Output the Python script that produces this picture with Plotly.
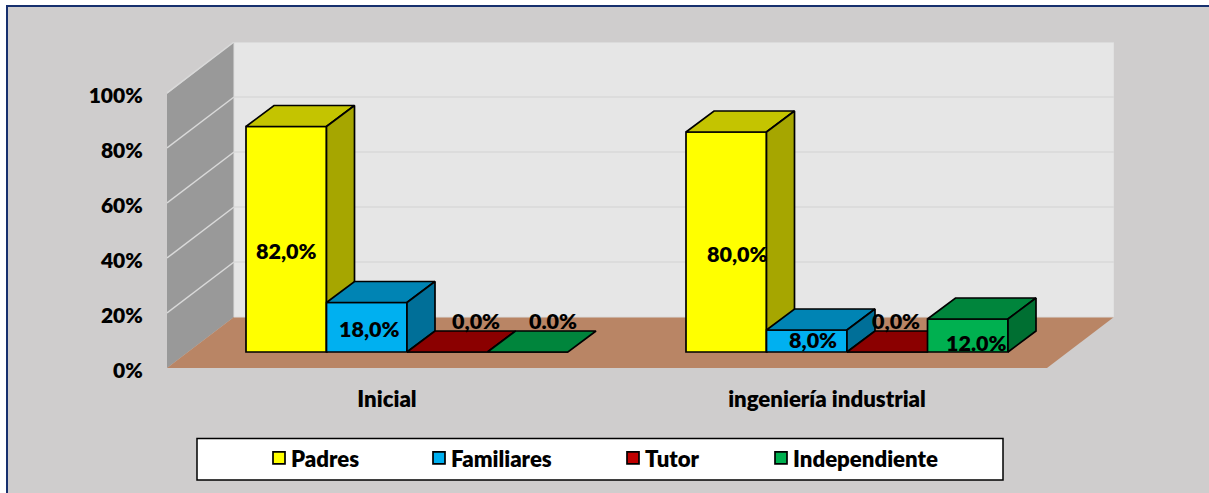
import plotly.graph_objects as go

categories = ["Inicial", "ingeniería industrial"]
series_names = ["Padres", "Familiares", "Tutor", "Independiente"]
padres = [82, 80]
familiares = [18, 8]
tutor = [0, 0]
independiente = [0, 12]
labels_padres = ["82,0%", "80,0%"]
labels_familiares = ["18,0%", "8,0%"]
labels_tutor = ["0,0%", "0,0%"]
labels_independiente = ["0.0%", "12.0%"]
y_ticks = [0, 20, 40, 60, 80, 100]

series_values = [padres, familiares, tutor, independiente]
series_labels = [labels_padres, labels_familiares, labels_tutor, labels_independiente]

# styles: legend/front, top, side
legend_fill = ["#ffff00", "#00b0f0", "#c00000", "#00b050"]
top = ["#c4c400", "#0084b4", "#8b0000", "#00853c"]
side = ["#a6a600", "#006f98", "#6e0000", "#006f32"]

W, H = 1209, 493
L, R, T, B = 167, 1114, 42, 368
PX_X, PX_Y = 440.0, 2.75          # pixels per category, pixels per percent
FONT = "Lato"
WEIGHT = 800
EDGE = 1.7

def px(v): return (v - L) / (R - L)
def py(v): return (B - v) / (B - T)

wall_dx, wall_dy = 67 / PX_X, 51 / PX_Y
bar_x0, bar_y0 = 20 / PX_X, 16 / PX_Y      # front plane of the bars
bar_w = 80.5 / PX_X
bar_dx, bar_dy = 28 / PX_X, 21 / PX_Y      # depth of the bars

fig = go.Figure()

# label nudges in pixels (right, down) relative to the bar centre
nudges = [[(0, 11.5), (11, 12)], [(3, 2), (6, -1)], [(29, -31), (9, -31)], [(25, -31), (9, 7)]]

annotations = []
for s, name in enumerate(series_names):
    suffix = "" if s == 0 else str(s + 1)
    xs = [c + 0.5 + bar_x0 + (s - 1.5) * bar_w for c in range(len(categories))]
    fig.add_trace(go.Bar(
        x=xs, y=series_values[s], base=[bar_y0] * len(xs), width=bar_w,
        name=name, xaxis="x" + suffix, yaxis="y" + suffix,
        marker=dict(color=legend_fill[s], line=dict(color="black", width=EDGE)),
        legend="legend" if s == 0 else "legend" + str(s + 1), hoverinfo="skip",
    ))
    for i, (xc, v) in enumerate(zip(xs, series_values[s])):
        x0, x1 = xc - bar_w / 2, xc + bar_w / 2
        y0, y1 = bar_y0, bar_y0 + v
        fig.add_trace(go.Scatter(
            x=[x0, x1, x1 + bar_dx, x0 + bar_dx, x0], y=[y1, y1, y1 + bar_dy, y1 + bar_dy, y1],
            fill="toself", fillcolor=top[s], mode="lines", line=dict(color="black", width=EDGE),
            showlegend=False, hoverinfo="skip", xaxis="x" + suffix, yaxis="y" + suffix))
        if v > 0:
            fig.add_trace(go.Scatter(
                x=[x1, x1 + bar_dx, x1 + bar_dx, x1, x1], y=[y0, y0 + bar_dy, y1 + bar_dy, y1, y0],
                fill="toself", fillcolor=side[s], mode="lines", line=dict(color="black", width=EDGE),
                showlegend=False, hoverinfo="skip", xaxis="x" + suffix, yaxis="y" + suffix))
        annotations.append(dict(
            x=xc, y=y0 + v / 2, xref="x", yref="y", text=series_labels[s][i], showarrow=False,
            xshift=nudges[s][i][0], yshift=-nudges[s][i][1],
            font=dict(family=FONT, size=21.5, color="black", weight=WEIGHT)))

x_top = (R - L) / PX_X
y_top = (B - T) / PX_Y

shapes = [
    # panel
    dict(type="rect", xref="paper", yref="paper", x0=px(7), x1=px(1215), y0=py(6), y1=py(499),
         fillcolor="#cfcdcd", line=dict(color="#17306e", width=2), layer="below"),
    # back wall
    dict(type="rect", xref="x", yref="y", x0=wall_dx, x1=wall_dx + 880 / PX_X, y0=wall_dy, y1=wall_dy + 100,
         fillcolor="#e6e6e6", line=dict(color="#dcdcdc", width=1), layer="below"),
    # left wall
    dict(type="path", xref="paper", yref="paper", layer="below", fillcolor="#999999", line=dict(width=0),
         path=f"M{px(167)},{py(368)} L{px(234)},{py(317)} L{px(234)},{py(42)} L{px(167)},{py(94)} Z"),
    # floor
    dict(type="path", xref="paper", yref="paper", layer="below", fillcolor="#b98565", line=dict(width=0),
         path=f"M{px(167)},{py(368)} L{px(1047)},{py(368)} L{px(1114)},{py(317)} L{px(234)},{py(317)} Z"),
    # legend box
    dict(type="rect", xref="paper", yref="paper", x0=px(197), x1=px(1003), y0=py(438.5), y1=py(480),
         fillcolor="white", line=dict(color="black", width=1.5), layer="below"),
]
for t in y_ticks[1:]:
    shapes.append(dict(type="line", xref="x", yref="y", x0=wall_dx, x1=wall_dx + 880 / PX_X,
                       y0=wall_dy + t, y1=wall_dy + t, line=dict(color="#d9d9d9", width=1.5), layer="below"))
    shapes.append(dict(type="line", xref="x", yref="y", x0=0, x1=wall_dx,
                       y0=t, y1=wall_dy + t, line=dict(color="#d9d9d9", width=1.5), layer="below"))

axis_common = dict(range=[0, x_top], visible=False, fixedrange=True)
yaxis_common = dict(range=[0, y_top], visible=False, fixedrange=True)

legend_text_x = [291, 451, 645, 793]
layout_legends = {}
for s in range(4):
    key = "legend" if s == 0 else f"legend{s + 1}"
    layout_legends[key] = dict(
        x=px(legend_text_x[s] - 40), y=py(458), xanchor="left", yanchor="middle",
        bgcolor="rgba(0,0,0,0)", borderwidth=0,
        font=dict(family=FONT, size=22.2, color="black", weight=WEIGHT))

fig.update_layout(
    width=W, height=H, autosize=False,
    margin=dict(l=L, r=W - R, t=T, b=H - B, pad=0),
    paper_bgcolor="white", plot_bgcolor="rgba(0,0,0,0)",
    barmode="overlay", shapes=shapes, annotations=annotations,
    xaxis=dict(range=[0, x_top], fixedrange=True, showgrid=False, zeroline=False, showline=False,
               tickmode="array", tickvals=[0.5, 1.5], ticktext=categories,
               ticks="outside", ticklen=11, tickcolor="rgba(0,0,0,0)",
               tickfont=dict(family=FONT, size=22.2, color="black", weight=WEIGHT)),
    yaxis=dict(range=[0, y_top], fixedrange=True, showgrid=False, zeroline=False, showline=False,
               tickmode="array", tickvals=y_ticks, ticktext=[f"{t}%" for t in y_ticks],
               ticks="outside", ticklen=19, tickcolor="rgba(0,0,0,0)", ticklabelshift=3,
               tickfont=dict(family=FONT, size=21, color="black", weight=WEIGHT)),
    **layout_legends,
)
for s in range(1, 4):
    fig.update_layout({
        f"xaxis{s + 1}": dict(overlaying="x", **axis_common),
        f"yaxis{s + 1}": dict(overlaying="y", **yaxis_common),
    })

# page without body margin; legend swatches sit closer to their text
post = ("document.body.style.margin='0';"
        "var st=document.createElement('style');"
        "st.textContent='g.legendpoints{transform:translate(8px,0)}';"
        "document.head.appendChild(st);")
fig.write_html("out.html", config={"displayModeBar": False}, post_script=post)
